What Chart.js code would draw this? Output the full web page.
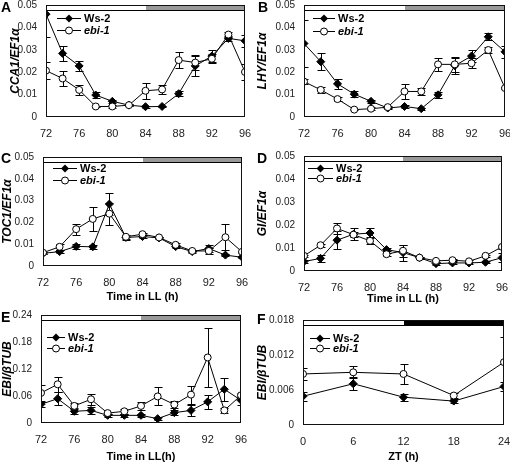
<!DOCTYPE html>
<html>
<head>
<meta charset="utf-8">
<script src="https://cdn.jsdelivr.net/npm/chart.js@4.4.1/dist/chart.umd.min.js"></script>
<style>
  html, body { margin: 0; padding: 0; background: #fff; }
  #fig { position: relative; width: 510px; height: 465px; overflow: hidden; font-family: "Liberation Sans", Arial, sans-serif; }
  .cell { position: absolute; }
  .tag { position: absolute; font: bold 14px "Liberation Sans", Arial, sans-serif; line-height: 14px; color: #000; }
</style>
</head>
<body>
<div id="fig">
  <div class="cell" style="left:0;top:0;width:255px;height:150px"><canvas id="cA"></canvas></div>
  <div class="cell" style="left:255px;top:0;width:255px;height:150px"><canvas id="cB"></canvas></div>
  <div class="cell" style="left:0;top:150px;width:255px;height:155px"><canvas id="cC"></canvas></div>
  <div class="cell" style="left:255px;top:150px;width:255px;height:157px"><canvas id="cD"></canvas></div>
  <div class="cell" style="left:0;top:308px;width:255px;height:157px"><canvas id="cE"></canvas></div>
  <div class="cell" style="left:255px;top:308px;width:255px;height:157px"><canvas id="cF"></canvas></div>
  <div class="tag" style="left:1px;top:0px">A</div>
  <div class="tag" style="left:258px;top:0px">B</div>
  <div class="tag" style="left:1px;top:151px">C</div>
  <div class="tag" style="left:257px;top:151px">D</div>
  <div class="tag" style="left:1px;top:310px">E</div>
  <div class="tag" style="left:257px;top:312px">F</div>
</div>
<script>
// time points
const hoursLL = [72, 74, 76, 78, 80, 82, 84, 86, 88, 90, 92, 94, 96];
const hoursZT = [0, 6, 12, 18, 24];
// light/dark bar boundaries
const phaseLL = [72, 84, 96];
const phaseZT = [0, 12, 24];

// A: CCA1/EF1a
const cca1Ws = [0.0459, 0.0284, 0.0228, 0.0098, 0.0070, 0.0053, 0.0046, 0.0047, 0.0104, 0.0228, 0.0272, 0.0351, 0.0340];
const cca1WsErr = [0.0104, 0.0035, 0.0022, 0.0012, 0.0008, 0.0004, 0.0005, 0.0004, 0.0012, 0.0043, 0.0027, 0.0010, 0.0026];
const cca1Ebi = [0.0207, 0.0172, 0.0121, 0.0047, 0.0047, 0.0053, 0.0117, 0.0123, 0.0254, 0.0243, 0.0260, 0.0368, 0.0201];
const cca1EbiErr = [0.0037, 0.0032, 0.0022, 0.0004, 0.0006, 0.0004, 0.0035, 0.0020, 0.0034, 0.0033, 0.0020, 0.0012, 0.0035];

// B: LHY/EF1a
const lhyWs = [0.0328, 0.0247, 0.0148, 0.0102, 0.0070, 0.0040, 0.0047, 0.0037, 0.0099, 0.0229, 0.0272, 0.0358, 0.0291];
const lhyWsErr = [0.0105, 0.0037, 0.0023, 0.0012, 0.0008, 0.0004, 0.0008, 0.0004, 0.0012, 0.0036, 0.0025, 0.0015, 0.0027];
const lhyEbi = [0.0158, 0.0121, 0.0080, 0.0033, 0.0037, 0.0044, 0.0114, 0.0114, 0.0235, 0.0235, 0.0240, 0.0299, 0.0129];
const lhyEbiErr = [0.0012, 0.0012, 0.0008, 0.0003, 0.0006, 0.0004, 0.0034, 0.0015, 0.0030, 0.0035, 0.0022, 0.0015, 0.0004];

// C: TOC1/EF1a
const toc1Ws = [0.0058, 0.0066, 0.0090, 0.0088, 0.0284, 0.0131, 0.0135, 0.0129, 0.0089, 0.0066, 0.0080, 0.0050, 0.0040];
const toc1WsErr = [0.0005, 0.0006, 0.0010, 0.0008, 0.0050, 0.0010, 0.0006, 0.0005, 0.0008, 0.0005, 0.0018, 0.0004, 0.0004];
const toc1Ebi = [0.0061, 0.0088, 0.0169, 0.0216, 0.0240, 0.0134, 0.0146, 0.0131, 0.0097, 0.0069, 0.0069, 0.0132, 0.0065];
const toc1EbiErr = [0.0004, 0.0015, 0.0025, 0.0054, 0.0050, 0.0010, 0.0006, 0.0004, 0.0010, 0.0005, 0.0012, 0.0060, 0.0004];

// D: GI/EF1a
const giWs = [0.0041, 0.0055, 0.0134, 0.0160, 0.0165, 0.0093, 0.0080, 0.0058, 0.0032, 0.0035, 0.0035, 0.0038, 0.0058];
const giWsErr = [0.0006, 0.0015, 0.0038, 0.0025, 0.0023, 0.0008, 0.0035, 0.0005, 0.0005, 0.0004, 0.0004, 0.0004, 0.0020];
const giEbi = [0.0066, 0.0112, 0.0185, 0.0158, 0.0131, 0.0073, 0.0088, 0.0058, 0.0044, 0.0047, 0.0042, 0.0066, 0.0105];
const giEbiErr = [0.0005, 0.0006, 0.0025, 0.0010, 0.0015, 0.0006, 0.0025, 0.0004, 0.0004, 0.0004, 0.0004, 0.0004, 0.0010];

// E: EBI/bTUB in LL
const ebiLLWs = [0.0416, 0.0540, 0.0260, 0.0280, 0.0170, 0.0170, 0.0170, 0.0097, 0.0230, 0.0280, 0.0470, 0.0750, 0.0505];
const ebiLLWsErr = [0.005, 0.014, 0.007, 0.008, 0.004, 0.004, 0.004, 0.003, 0.006, 0.012, 0.015, 0.025, 0.010];
const ebiLLEbi = [0.0668, 0.0860, 0.0380, 0.0527, 0.0220, 0.0260, 0.0380, 0.0590, 0.0410, 0.0630, 0.1456, 0.0280, 0.0616];
const ebiLLEbiErr = [0.018, 0.016, 0.007, 0.012, 0.003, 0.005, 0.008, 0.020, 0.008, 0.020, 0.065, 0.006, 0.004];

// F: EBI/bTUB in LD
const ztWs = [0.00493, 0.00707, 0.00477, 0.00410, 0.00660];
const ztWsErr = [0.0008, 0.0011, 0.0006, 0.0003, 0.0008];
const ztEbi = [0.00875, 0.00903, 0.00875, 0.00505, 0.01077];
const ztEbiErr = [0.0011, 0.0010, 0.0017, 0.0005, 0.0043];

const FONT = '"Liberation Sans", Arial, sans-serif';

const decorPlugin = {
  id: 'decor',
  beforeDatasetsDraw(chart, args, o) {
    const { ctx, chartArea: a, scales: { x, y } } = chart;
    ctx.save();
    ctx.beginPath();
    ctx.rect(a.left, a.top, a.right - a.left, a.bottom - a.top);
    ctx.clip();
    ctx.strokeStyle = '#000';
    ctx.lineWidth = 1;
    chart.data.datasets.forEach(ds => {
      if (!ds.errors) return;
      ds.data.forEach((p, i) => {
        const e = ds.errors[i];
        if (!e) return;
        const px = Math.round(x.getPixelForValue(p.x)) + 0.5;
        const y1 = Math.round(y.getPixelForValue(p.y + e)) + 0.5;
        const y2 = Math.round(y.getPixelForValue(p.y - e)) + 0.5;
        ctx.beginPath();
        ctx.moveTo(px, y1); ctx.lineTo(px, y2);
        ctx.moveTo(px - 4, y1); ctx.lineTo(px + 4, y1);
        ctx.moveTo(px - 4, y2); ctx.lineTo(px + 4, y2);
        ctx.stroke();
      });
    });
    ctx.restore();
  },
  afterDatasetsDraw(chart, args, o) {
    const { ctx, chartArea: a, scales: { x } } = chart;
    ctx.save();
    // light / dark bar along the top
    const bh = 5;
    for (let i = 0; i < o.phases.length - 1; i++) {
      const x1 = Math.round(x.getPixelForValue(o.phases[i]));
      const x2 = Math.round(x.getPixelForValue(o.phases[i + 1]));
      ctx.fillStyle = o.phaseColors[i];
      ctx.fillRect(x1, a.top, x2 - x1, bh);
    }
    ctx.strokeStyle = '#000';
    ctx.lineWidth = 1;
    ctx.beginPath();
    ctx.moveTo(Math.round(a.left), Math.round(a.top + bh) + 0.5);
    ctx.lineTo(Math.round(a.right), Math.round(a.top + bh) + 0.5);
    ctx.stroke();
    // frame
    ctx.strokeStyle = '#111';
    ctx.strokeRect(Math.round(a.left) + 0.5, Math.round(a.top) + 0.5,
      Math.round(a.right - a.left) - 1, Math.round(a.bottom - a.top) - 1);
    // legend, Ws-2 first
    const lg = o.legend;
    const rows = [lg.y1, lg.y2];
    chart.data.datasets.forEach((ds, i) => {
      const yy = Math.round(a.top + rows[i]) + 0.5;
      const x0 = a.left + lg.x, x1 = x0 + lg.len, xm = (x0 + x1) / 2;
      ctx.strokeStyle = '#000';
      ctx.beginPath(); ctx.moveTo(x0, yy); ctx.lineTo(x1, yy); ctx.stroke();
      ctx.beginPath();
      if (ds.pointStyle === 'rectRot') {
        ctx.moveTo(xm, yy - 4); ctx.lineTo(xm + 4, yy); ctx.lineTo(xm, yy + 4); ctx.lineTo(xm - 4, yy); ctx.closePath();
        ctx.fillStyle = '#000'; ctx.fill();
      } else {
        ctx.arc(xm, yy, 3.5, 0, Math.PI * 2);
        ctx.fillStyle = '#fff'; ctx.fill(); ctx.stroke();
      }
      ctx.fillStyle = '#000';
      ctx.font = (ds.italic ? 'italic ' : '') + 'bold 11px ' + FONT;
      ctx.textBaseline = 'middle';
      ctx.fillText(ds.label, x1 + 3, yy);
    });
    ctx.restore();
  }
};

function makePanel(id, cfg) {
  const el = document.getElementById(id);
  const cw = 255, ch = cfg.height;
  el.parentNode.style.height = ch + 'px';
  new Chart(el, {
    type: 'line',
    data: {
      datasets: [
        { label: 'Ws-2', data: cfg.xs.map((v, i) => ({ x: v, y: cfg.ws[i] })), errors: cfg.wsErr,
          borderColor: '#000', borderWidth: 1, pointStyle: 'rectRot', pointRadius: 4,
          pointBackgroundColor: '#000', pointBorderColor: '#000', pointBorderWidth: 1, order: 1 },
        { label: 'ebi-1', italic: true, data: cfg.xs.map((v, i) => ({ x: v, y: cfg.ebi[i] })), errors: cfg.ebiErr,
          borderColor: '#000', borderWidth: 1, pointStyle: 'circle', pointRadius: 3.5,
          pointBackgroundColor: '#fff', pointBorderColor: '#000', pointBorderWidth: 1, order: 0 }
      ]
    },
    options: {
      responsive: true, maintainAspectRatio: false, animation: false,
      layout: { padding: { top: cfg.area.t, right: cw - cfg.area.r, left: 0, bottom: 0 } },
      plugins: {
        legend: { display: false }, tooltip: { enabled: false },
        decor: { phases: cfg.phases, phaseColors: ['#fff', cfg.dark], legend: cfg.legend }
      },
      scales: {
        x: {
          type: 'linear', min: cfg.xs[0], max: cfg.xs[cfg.xs.length - 1],
          grid: { display: false, drawTicks: false }, border: { display: false },
          ticks: { stepSize: cfg.xStep, padding: 10, color: '#222', font: { family: FONT, size: 11 } },
          title: { display: !!cfg.xTitle, text: cfg.xTitle || '', color: '#000',
            font: { family: FONT, size: 11, weight: 'bold' }, padding: { top: 2, bottom: 1 } },
          afterFit(s) { s.height = ch - cfg.area.b; s.paddingLeft = 0; s.paddingRight = 0; }
        },
        y: {
          min: 0, max: cfg.yMax,
          grid: { display: false, drawTicks: false }, border: { display: false },
          ticks: { stepSize: cfg.yStep, padding: 9, color: '#222', font: { family: FONT, size: 10 },
            callback: v => String(+v.toFixed(4)) },
          title: { display: true, text: cfg.yTitle, color: '#000',
            font: { family: FONT, size: 12, weight: 'bold', style: 'italic' }, padding: { top: cfg.yTitlePad, bottom: 0 } },
          afterFit(s) { s.width = cfg.area.l; s.paddingTop = 0; s.paddingBottom = 0; }
        }
      }
    },
    plugins: [decorPlugin]
  });
}

makePanel('cA', { height: 150, xs: hoursLL, ws: cca1Ws, wsErr: cca1WsErr, ebi: cca1Ebi, ebiErr: cca1EbiErr,
  area: { l: 46, t: 5, r: 245, b: 117 }, yMax: 0.05, yStep: 0.01, xStep: 4, yTitle: 'CCA1/EF1α', yTitlePad: 8,
  phases: phaseLL, dark: '#999', legend: { x: 11, len: 24, y1: 13, y2: 25 } });
makePanel('cB', { height: 150, xs: hoursLL, ws: lhyWs, wsErr: lhyWsErr, ebi: lhyEbi, ebiErr: lhyEbiErr,
  area: { l: 49, t: 5, r: 250, b: 117 }, yMax: 0.05, yStep: 0.01, xStep: 4, yTitle: 'LHY/EF1α', yTitlePad: 0,
  phases: phaseLL, dark: '#999', legend: { x: 9, len: 22, y1: 13, y2: 26 } });
makePanel('cC', { height: 155, xs: hoursLL, ws: toc1Ws, wsErr: toc1WsErr, ebi: toc1Ebi, ebiErr: toc1EbiErr,
  area: { l: 43, t: 7, r: 242, b: 116 }, yMax: 0.05, yStep: 0.01, xStep: 4, yTitle: 'TOC1/EF1α', yTitlePad: 0,
  xTitle: 'Time in LL (h)', phases: phaseLL, dark: '#999', legend: { x: 10, len: 24, y1: 11, y2: 23 } });
makePanel('cD', { height: 157, xs: hoursLL, ws: giWs, wsErr: giWsErr, ebi: giEbi, ebiErr: giEbiErr,
  area: { l: 49, t: 6, r: 247, b: 121 }, yMax: 0.05, yStep: 0.01, xStep: 4, yTitle: 'GI/EF1α', yTitlePad: 0,
  xTitle: 'Time in LL (h)', phases: phaseLL, dark: '#999', legend: { x: 4, len: 25, y1: 12, y2: 22 } });
makePanel('cE', { height: 157, xs: hoursLL, ws: ebiLLWs, wsErr: ebiLLWsErr, ebi: ebiLLEbi, ebiErr: ebiLLEbiErr,
  area: { l: 41, t: 7, r: 241, b: 115 }, yMax: 0.24, yStep: 0.06, xStep: 4, yTitle: 'EBI/βTUB', yTitlePad: 0,
  xTitle: 'Time in LL(h)', phases: phaseLL, dark: '#999', legend: { x: 6, len: 18, y1: 22, y2: 33 } });
makePanel('cF', { height: 157, xs: hoursZT, ws: ztWs, wsErr: ztWsErr, ebi: ztEbi, ebiErr: ztEbiErr,
  area: { l: 48, t: 12, r: 249, b: 117 }, yMax: 0.018, yStep: 0.006, xStep: 6, yTitle: 'EBI/βTUB', yTitlePad: 0,
  xTitle: 'ZT (h)', phases: phaseZT, dark: '#000', legend: { x: 7, len: 20, y1: 18, y2: 28 } });
</script>
</body>
</html>
